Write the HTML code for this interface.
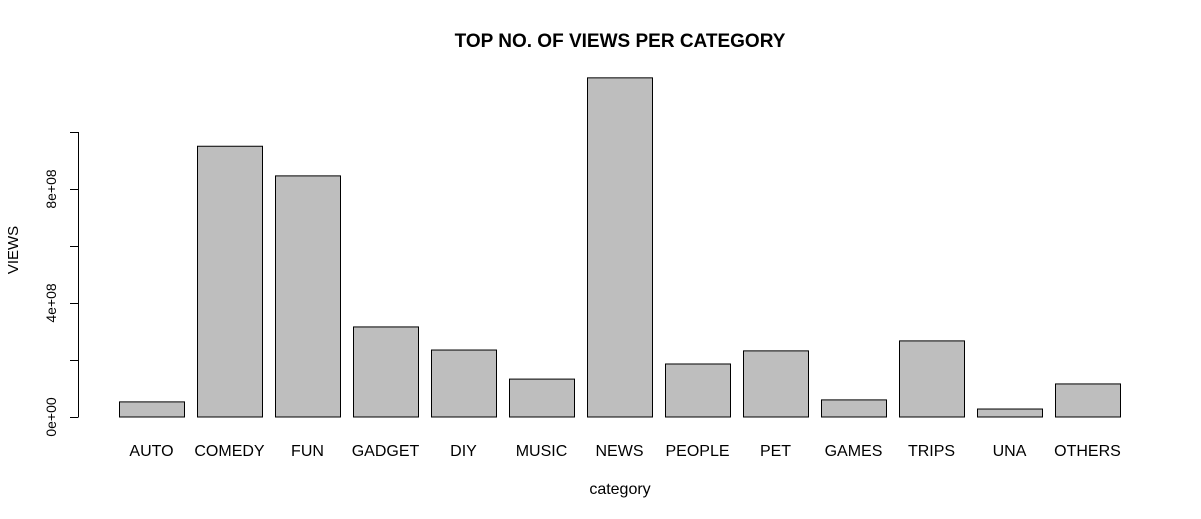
<!DOCTYPE html>
<html><head><meta charset="utf-8"><style>
html,body{margin:0;padding:0;background:#fff;}
svg{display:block;font-family:"Liberation Sans",sans-serif;}
</style></head><body>
<svg id="chart" width="1201" height="519" viewBox="0 0 1201 519">
<text x="620" y="47" text-anchor="middle" font-size="19" font-weight="bold">TOP NO. OF VIEWS PER CATEGORY</text>
<text x="620" y="494" text-anchor="middle" font-size="16">category</text>
<text transform="translate(18,250) rotate(-90)" text-anchor="middle" font-size="15">VIEWS</text>
<g id="bars"></g>
<g id="yaxis"></g>
</svg>
<script>
const categories=["AUTO","COMEDY","FUN","GADGET","DIY","MUSIC","NEWS","PEOPLE","PET","GAMES","TRIPS","UNA","OTHERS"];
const views=[0.53e8,9.5e8,8.46e8,3.16e8,2.35e8,1.33e8,11.9e8,1.86e8,2.32e8,0.6e8,2.67e8,0.28e8,1.16e8];
const yTicks=[0,2e8,4e8,6e8,8e8,10e8];
const yLabels={0:"0e+00",4e8:"4e+08",8e8:"8e+08"};
const NS="http://www.w3.org/2000/svg";
const y=v=>417-v*285/1e9;
const x=i=>119+i*78;
const bw=65;
const bars=document.getElementById('bars');
categories.forEach((c,i)=>{
  const r=document.createElementNS(NS,'rect');
  r.setAttribute('x',x(i)+0.5);r.setAttribute('y',y(views[i]));
  r.setAttribute('width',bw);r.setAttribute('height',y(0)-y(views[i]));
  r.setAttribute('fill','#bebebe');r.setAttribute('stroke','#000');
  
  
  bars.appendChild(r);
  const t=document.createElementNS(NS,'text');
  t.setAttribute('x',x(i)+bw/2);t.setAttribute('y',456);
  t.setAttribute('text-anchor','middle');t.setAttribute('font-size','16');
  t.textContent=c;
  
  
  bars.appendChild(t);
});
const ya=document.getElementById('yaxis');
const ax=document.createElementNS(NS,'line');
ax.setAttribute('x1',78.5);ax.setAttribute('x2',78.5);
ax.setAttribute('y1',y(0));ax.setAttribute('y2',y(yTicks[yTicks.length-1]));
ax.setAttribute('stroke','#000');


ya.appendChild(ax);
yTicks.forEach(v=>{
  const l=document.createElementNS(NS,'line');
  l.setAttribute('x1',70);l.setAttribute('x2',78.5);
  l.setAttribute('y1',Math.round(y(v))+0.5);l.setAttribute('y2',Math.round(y(v))+0.5);
  l.setAttribute('stroke','#000');
  
  
  ya.appendChild(l);
  if(yLabels[v]!==undefined){
    const t=document.createElementNS(NS,'text');
    t.setAttribute('transform','translate(56,'+y(v)+') rotate(-90)');
    t.setAttribute('text-anchor','middle');t.setAttribute('font-size','14');
    t.textContent=yLabels[v];
    
    
    ya.appendChild(t);
  }
});
</script>
</body></html>
